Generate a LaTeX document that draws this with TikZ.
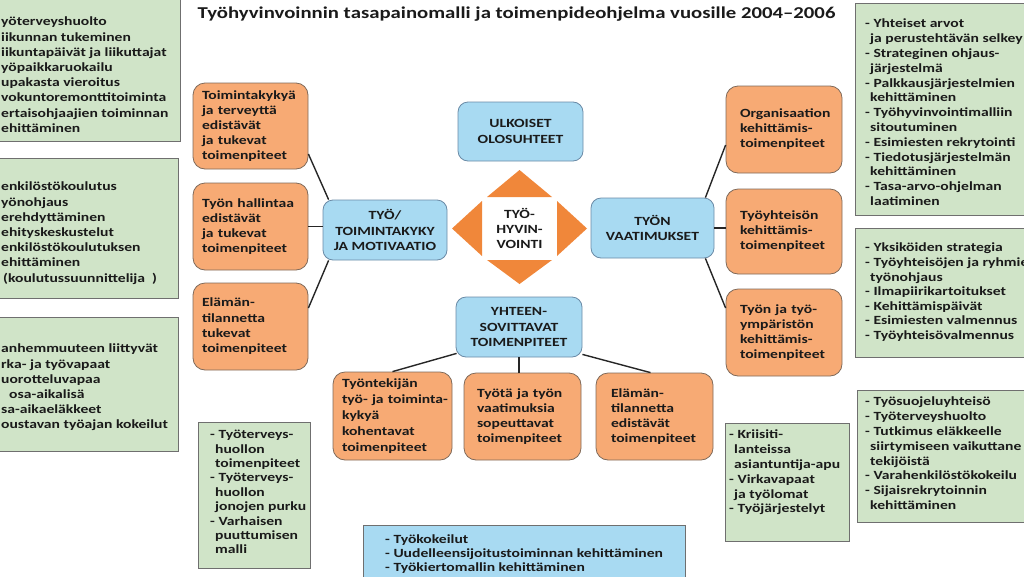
\documentclass[tikz,border=0pt]{standalone}
\usepackage{fontspec}
\setmainfont{Carlito}[FakeStretch=1.25]
\usetikzlibrary{calc}
\definecolor{gfill}{HTML}{D0E4C8}
\definecolor{gline}{HTML}{6F6F6F}
\definecolor{ofill}{HTML}{F7AA74}
\definecolor{oline}{HTML}{7F6A5A}
\definecolor{tri}{HTML}{F0873A}
\definecolor{bfill}{HTML}{A8DAF2}
\definecolor{bline}{HTML}{6A8AA6}
\definecolor{txt}{HTML}{1A1A1A}
\newcommand\tfs[1]{\bfseries\fontsize{12.5}{#1}\selectfont}
\newcommand\ind{\hspace*{5pt}}
\tikzset{
  gbox/.style={draw=gline, fill=gfill, line width=0.8pt, anchor=north west, inner sep=0pt},
  obox/.style={draw=oline, fill=ofill, rounded corners=12pt, line width=0.8pt, align=left,
    inner ysep=0pt, text=txt},
  bbox/.style={draw=bline, fill=bfill, rounded corners=10pt, line width=0.8pt, align=center,
    inner sep=0pt, text=txt, font=\tfs{15.3}},
  lbl/.style={anchor=north west, inner sep=0pt, align=left, text=txt},
  conn/.style={draw=black!85, line width=1.4pt},
}
\begin{document}
\begin{tikzpicture}[x=1pt,y=-1pt]
\useasboundingbox (0,0) rectangle (1024,576);
\clip (0,0) rectangle (1024,576);

% title
\node[font=\bfseries\fontsize{16.6}{19}\selectfont, text=txt] (title) at (516.5,14)
  {Työhyvinvoinnin tasapainomalli ja toimenpideohjelma vuosille 2004–2006};

% left green boxes
\node[gbox, minimum width=190pt, minimum height=146pt] (g1) at (-10,-5) {};
\node[lbl, font=\tfs{15.2}] (g1t) at (1,17) {yöterveyshuolto\\iikunnan tukeminen\\iikuntapäivät ja liikuttajat\\yöpaikkaruokailu\\upakasta vieroitus\\vokuntoremonttitoiminta\\ertaisohjaajien toiminnan\\ehittäminen};
\node[gbox, minimum width=188pt, minimum height=140pt] (g2) at (-10,158) {};
\node[lbl, font=\tfs{15.2}] (g2t) at (1,182) {enkilöstökoulutus\\yönohjaus\\erehdyttäminen\\ehityskeskustelut\\enkilöstökoulutuksen\\ehittäminen\\\hspace*{2pt}(koulutussuunnittelija\ \ )};
\node[gbox, minimum width=188pt, minimum height=134pt] (g3) at (-10,317) {};
\node[lbl, font=\tfs{15.2}] (g3t) at (1,344) {anhemmuuteen liittyvät\\rka- ja työvapaat\\uorotteluvapaa\\\hspace*{8pt}osa-aikalisä\\sa-aikaeläkkeet\\oustavan työajan kokeilut};

% left orange boxes
\node[obox, minimum width=115pt, minimum height=86pt, inner xsep=9pt, text width=97pt, font=\tfs{15}] (o1) at (250.5,126) {Toimintakykyä\\ja terveyttä\\edistävät\\ja tukevat\\toimenpiteet};
\node[obox, minimum width=115pt, minimum height=87pt, inner xsep=9pt, text width=97pt, font=\tfs{15}] (o2) at (250.5,226.5) {Työn hallintaa\\edistävät\\ja tukevat\\toimenpiteet};
\node[obox, minimum width=115pt, minimum height=87pt, inner xsep=9pt, text width=97pt, font=\tfs{15.3}] (o3) at (250.5,326.5) {Elämän-\\tilannetta\\tukevat\\toimenpiteet};

% blue boxes
\node[bbox, minimum width=124pt, minimum height=60pt] (blueL) at (385,230) {TYÖ/\\TOIMINTAKYKY\\JA MOTIVAATIO};
\node[bbox, minimum width=125pt, minimum height=59pt] (ulk) at (520.5,131.5) {ULKOISET\\OLOSUHTEET};
\node[bbox, minimum width=123pt, minimum height=60pt] (blueR) at (652.5,228) {TYÖN\\VAATIMUKSET};
\node[bbox, minimum width=126pt, minimum height=60pt] (blueB) at (519,327) {YHTEEN-\\SOVITTAVAT\\TOIMENPITEET};

% diamond
\fill[tri] (487,197) -- (552,197) -- (519.5,170) -- cycle;
\fill[tri] (487,260) -- (552,260) -- (519.5,284) -- cycle;
\fill[tri] (482,201) -- (482,256) -- (452,228.5) -- cycle;
\fill[tri] (557,201) -- (557,256) -- (587,228.5) -- cycle;
\node[align=center, inner sep=0pt, text=txt, font=\tfs{15}] (dia) at (519.5,228.5) {TYÖ-\\HYVIN-\\VOINTI};

% right orange boxes
\node[obox, minimum width=116pt, minimum height=87pt, inner xsep=14pt, text width=88pt, font=\tfs{15}] (r1) at (784,129.5) {Organisaation\\kehittämis-\\toimenpiteet};
\node[obox, minimum width=116pt, minimum height=85pt, inner xsep=14pt, text width=88pt, font=\tfs{15}] (r2) at (784,231.5) {Työyhteisön\\kehittämis-\\toimenpiteet};
\node[obox, minimum width=116pt, minimum height=87pt, inner xsep=14pt, text width=88pt, font=\tfs{15}] (r3) at (784,332.5) {Työn ja työ-\\ympäristön\\kehittämis-\\toimenpiteet};

% bottom orange boxes
\node[obox, minimum width=119pt, minimum height=88pt, inner xsep=9pt, text width=101pt, font=\tfs{16}] (b1) at (392.5,416) {Työntekijän\\\mbox{työ- ja toiminta-}\\kykyä\\kohentavat\\toimenpiteet};
\node[obox, minimum width=117pt, minimum height=87pt, inner xsep=13pt, text width=91pt, font=\tfs{15}] (b2) at (522.5,416.5) {Työtä ja työn\\vaatimuksia\\sopeuttavat\\toimenpiteet};
\node[obox, minimum width=117pt, minimum height=87pt, inner xsep=15pt, text width=87pt, font=\tfs{15}] (b3) at (654.5,416.5) {Elämän-\\tilannetta\\edistävät\\toimenpiteet};

% right green boxes
\node[gbox, minimum width=180pt, minimum height=212pt] (gr1) at (855,3) {};
\node[lbl, font=\tfs{14.8}] (gr1t) at (865,19) {- Yhteiset arvot\\\ind ja perustehtävän selkey\\- Strateginen ohjaus-\\\ind järjestelmä\\- Palkkausjärjestelmien\\\ind kehittäminen\\- Työhyvinvointimalliin\\\ind sitoutuminen\\- Esimiesten rekrytointi\\- Tiedotusjärjestelmän\\\ind kehittäminen\\- Tasa-arvo-ohjelman\\\ind laatiminen};
\node[gbox, minimum width=180pt, minimum height=129pt] (gr2) at (855,228) {};
\node[lbl, font=\tfs{14.6}] (gr2t) at (865,243) {- Yksiköiden strategia\\- Työyhteisöjen ja ryhmie\\\ind työnohjaus\\- Ilmapiirikartoitukset\\- Kehittämispäivät\\- Esimiesten valmennus\\- Työyhteisövalmennus};
\node[gbox, minimum width=180pt, minimum height=132pt] (gr3) at (857,390) {};
\node[lbl, font=\tfs{14.8}] (gr3t) at (865,397) {- Työsuojeluyhteisö\\- Työterveyshuolto\\- Tutkimus eläkkeelle\\\ind siirtymiseen vaikuttane\\\ind tekijöistä\\- Varahenkilöstökokeilu\\- Sijaisrekrytoinnin\\\ind kehittäminen};

% bottom green boxes
\node[gbox, minimum width=112pt, minimum height=146pt] (gb1) at (198,422) {};
\node[lbl, font=\tfs{14.4}] (gb1t) at (210,430) {- Työterveys-\\\ind huollon\\\ind toimenpiteet\\- Työterveys-\\\ind huollon\\\ind jonojen purku\\- Varhaisen\\\ind puuttumisen\\\ind malli};
\node[gbox, minimum width=124pt, minimum height=118pt] (gb2) at (725,423) {};
\node[lbl, font=\tfs{14.8}] (gb2t) at (729,430) {- Kriisiti-\\\ind lanteissa\\\ind asiantuntija-apu\\- Virkavapaat\\\ind ja työlomat\\- Työjärjestelyt};

% bottom blue box
\node[gbox, fill=bfill, draw=gline, minimum width=322pt, minimum height=70pt] (bb) at (363,525) {};
\node[lbl, font=\tfs{14}] (bbt) at (385,535) {- Työkokeilut\\- Uudelleensijoitustoiminnan kehittäminen\\- Työkiertomallin kehittäminen};

% connectors
\draw[conn] ($(o1.east)+(0,28)$) -- ($(blueL.north west)+(6,0)$);
\draw[conn] (o2.east) -- (blueL.west |- o2.east);
\draw[conn] ($(o3.east)+(0,-18.5)$) -- ($(blueL.south west)+(6,0)$);
\draw[conn] ($(blueR.north east)+(-9,0)$) -- ($(r1.west)+(0,15.5)$);
\draw[conn] (blueR.east) -- (r2.west |- blueR.east);
\draw[conn] ($(blueR.south east)+(-9,0)$) -- ($(r3.west)+(0,-24.5)$);
\draw[conn] ($(blueB.south west)+(1,-4)$) -- (b1.north);
\draw[conn] (blueB.south) -- (blueB.south |- b2.north);
\draw[conn] ($(blueB.south east)+(0,-3)$) -- ($(b3.north)+(-4,0)$);
\end{tikzpicture}
\end{document}
